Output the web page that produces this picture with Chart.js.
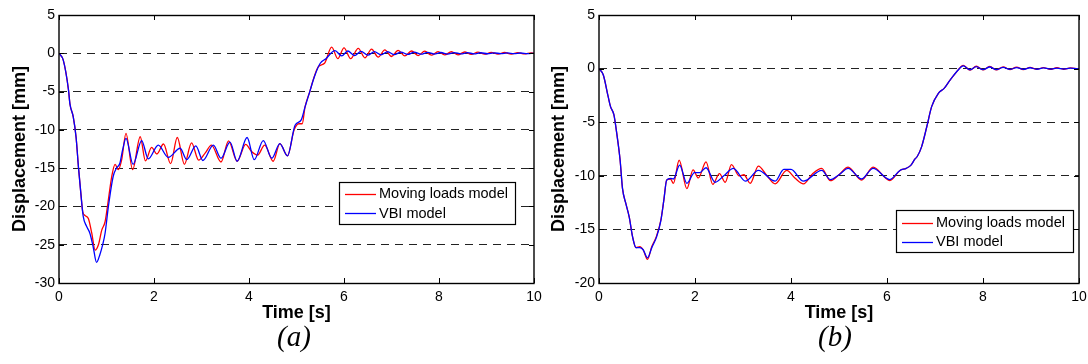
<!DOCTYPE html>
<html><head><meta charset="utf-8">
<script src="https://cdn.jsdelivr.net/npm/chart.js@4.4.0/dist/chart.umd.min.js"></script>
<style>
html,body{margin:0;padding:0;background:#fff;width:1088px;height:364px;overflow:hidden;}
canvas{position:absolute;top:0;}
#c1{left:0}
#c2{left:544px}
.cap{position:absolute;top:322px;width:120px;text-align:center;font:italic 29px 'Liberation Serif','Times New Roman',serif;line-height:29px;color:#000;}
</style></head><body>
<canvas id="c1" width="544" height="364"></canvas>
<canvas id="c2" width="544" height="364"></canvas>
<div class="cap" style="left:234px">(a)</div>
<div class="cap" style="left:775px">(b)</div>
<script>
const seriesNames = ['Moving loads model', 'VBI model'];
const xTickValues = [0, 2, 4, 6, 8, 10];
const yTicksA = [-30, -25, -20, -15, -10, -5, 0, 5];
const yTicksB = [-20, -15, -10, -5, 0, 5];
const xTitle = 'Time [s]';
const yTitle = 'Displacement [mm]';

// (a) [time s, displacement mm]
const aMovingLoads = [[0,0],[0.09,-0.9],[0.20,-4.8],[0.23,-6.6],[0.30,-8.3],[0.36,-11.0],[0.41,-14.9],[0.46,-18.3],[0.50,-20.7],[0.55,-21.2],[0.62,-21.6],[0.69,-23.5],[0.76,-25.7],[0.83,-25.0],[0.90,-23.1],[0.97,-22.0],[1.02,-20.0],[1.11,-16.1],[1.18,-14.5],[1.25,-15.2],[1.32,-13.9],[1.41,-10.45],[1.55,-15.2],[1.71,-10.9],[1.82,-14.05],[1.95,-12.3],[2.06,-13.15],[2.20,-11.85],[2.35,-14.4],[2.49,-11.0],[2.64,-14.5],[2.79,-11.7],[2.94,-13.95],[3.08,-13.0],[3.21,-12.0],[3.41,-14.2],[3.57,-11.45],[3.75,-14.1],[3.93,-11.9],[4.05,-12.8],[4.18,-13.3],[4.33,-12.0],[4.51,-14.1],[4.65,-11.8],[4.81,-13.4],[4.95,-10.0],[5.05,-9.2],[5.12,-9.2],[5.18,-7.0],[5.28,-5.0],[5.35,-3.5],[5.46,-1.75],[5.59,-1.3],[5.74,0.8],[5.87,-0.7],[6.00,0.7],[6.14,-0.7],[6.30,0.65],[6.44,-0.6],[6.58,0.55],[6.72,-0.5],[6.86,0.45],[7.00,-0.42],[7.14,0.38],[7.28,-0.35],[7.42,0.3],[7.56,-0.3],[7.70,0.27],[7.84,-0.25],[7.98,0.22],[8.12,-0.22],[8.26,0.2],[8.40,-0.2],[8.54,0.17],[8.68,-0.15],[8.82,0.15],[8.96,-0.12],[9.10,0.12],[9.24,-0.1],[9.38,0.1],[9.52,-0.1],[9.66,0.08],[9.80,-0.08],[9.94,0.06],[10.0,0.0]];
const aVBI = [[0,0],[0.09,-0.9],[0.20,-4.8],[0.23,-6.6],[0.30,-8.3],[0.36,-11.0],[0.41,-14.9],[0.46,-18.3],[0.51,-21.3],[0.58,-22.6],[0.65,-23.5],[0.72,-25.3],[0.79,-27.3],[0.86,-26.3],[0.92,-25.0],[0.97,-23.5],[1.04,-20.0],[1.14,-16.1],[1.21,-15.0],[1.28,-14.4],[1.34,-12.6],[1.41,-11.1],[1.56,-14.5],[1.74,-11.4],[1.88,-13.8],[2.09,-12.0],[2.30,-13.6],[2.55,-12.4],[2.69,-13.9],[2.88,-12.1],[3.03,-14.0],[3.25,-12.0],[3.41,-13.7],[3.60,-11.6],[3.75,-14.1],[3.96,-11.0],[4.11,-13.9],[4.30,-11.4],[4.48,-13.7],[4.65,-11.8],[4.81,-13.4],[4.97,-9.4],[5.10,-8.7],[5.18,-7.0],[5.28,-5.0],[5.38,-3.0],[5.50,-1.3],[5.62,-0.7],[5.81,0.35],[5.95,-0.35],[6.08,0.3],[6.22,-0.3],[6.36,0.25],[6.50,-0.25],[6.64,0.22],[6.78,-0.2],[6.92,0.2],[7.06,-0.18],[7.20,0.16],[7.34,-0.15],[7.48,0.14],[7.62,-0.12],[7.76,0.12],[7.90,-0.1],[8.04,0.1],[8.18,-0.1],[8.32,0.09],[8.46,-0.08],[8.60,0.08],[8.74,-0.07],[8.88,0.07],[9.02,-0.06],[9.16,0.06],[9.30,-0.05],[9.44,0.05],[9.58,-0.05],[9.72,0.04],[9.86,-0.04],[10.0,0.0]];

// (b)
const bMovingLoads = [[0,0],[0.09,-0.6],[0.19,-2.6],[0.24,-3.55],[0.31,-4.3],[0.37,-6.05],[0.44,-8.55],[0.49,-11.2],[0.56,-12.6],[0.63,-13.85],[0.70,-15.7],[0.77,-16.7],[0.85,-16.6],[0.92,-16.9],[1.01,-17.8],[1.10,-16.6],[1.20,-15.6],[1.29,-14.1],[1.35,-12.3],[1.41,-10.4],[1.49,-10.3],[1.55,-10.7],[1.67,-8.55],[1.83,-11.2],[1.96,-9.45],[2.07,-10.2],[2.23,-8.7],[2.37,-10.8],[2.51,-9.8],[2.63,-10.6],[2.76,-8.95],[2.92,-10.0],[3.02,-9.9],[3.15,-10.7],[3.32,-9.1],[3.50,-10.0],[3.67,-10.75],[3.91,-9.5],[4.08,-10.2],[4.26,-10.75],[4.45,-9.8],[4.64,-9.3],[4.82,-10.45],[5.00,-9.9],[5.19,-9.2],[5.47,-10.4],[5.71,-9.2],[6.06,-10.45],[6.27,-9.5],[6.40,-9.3],[6.50,-9.0],[6.58,-8.45],[6.63,-8.2],[6.72,-7.3],[6.83,-5.4],[6.93,-3.55],[7.07,-2.3],[7.19,-1.85],[7.31,-1.1],[7.45,-0.3],[7.59,0.3],[7.73,-0.15],[7.86,0.22],[8.00,-0.12],[8.14,0.2],[8.28,-0.12],[8.42,0.16],[8.56,-0.1],[8.70,0.14],[8.84,-0.1],[8.98,0.12],[9.12,-0.08],[9.26,0.1],[9.40,-0.08],[9.54,0.08],[9.68,-0.06],[9.82,0.06],[10.0,-0.04]];
const bVBI = [[0,0],[0.09,-0.6],[0.19,-2.6],[0.24,-3.55],[0.31,-4.3],[0.37,-6.05],[0.44,-8.55],[0.49,-11.2],[0.56,-12.6],[0.63,-13.85],[0.70,-15.7],[0.77,-16.7],[0.85,-16.7],[0.92,-16.9],[1.01,-17.65],[1.10,-16.7],[1.20,-15.7],[1.29,-14.15],[1.35,-12.3],[1.41,-10.4],[1.49,-10.25],[1.55,-10.3],[1.68,-9.0],[1.83,-10.7],[1.99,-9.7],[2.10,-9.7],[2.23,-9.25],[2.42,-10.6],[2.60,-10.0],[2.80,-9.3],[3.05,-10.5],[3.32,-9.5],[3.67,-10.5],[3.85,-9.4],[4.00,-9.4],[4.26,-10.5],[4.64,-9.5],[4.82,-10.35],[5.00,-9.9],[5.19,-9.3],[5.47,-10.3],[5.71,-9.3],[6.06,-10.35],[6.27,-9.5],[6.40,-9.3],[6.50,-9.0],[6.58,-8.45],[6.63,-8.2],[6.72,-7.3],[6.83,-5.4],[6.93,-3.55],[7.07,-2.3],[7.19,-1.85],[7.31,-1.1],[7.45,-0.3],[7.59,0.25],[7.73,-0.12],[7.86,0.18],[8.00,-0.1],[8.14,0.15],[8.28,-0.1],[8.42,0.12],[8.56,-0.08],[8.70,0.1],[8.84,-0.07],[8.98,0.08],[9.12,-0.06],[9.26,0.07],[9.40,-0.05],[9.54,0.05],[9.68,-0.04],[9.82,0.04],[10.0,-0.03]];

const FONT = "'Liberation Sans', Arial, Helvetica, sans-serif";
Chart.defaults.font.family = FONT;
Chart.defaults.color = '#000';

const frameTicks = {
  id: 'frameTicks',
  afterDatasetsDraw(chart) {
    const ctx = chart.ctx, a = chart.chartArea;
    const xs = chart.scales.x, ys = chart.scales.y;
    const L = 5;
    ctx.save();
    ctx.strokeStyle = '#000';
    ctx.lineWidth = 1;
    ctx.beginPath();
    xs.ticks.forEach(t => {
      const px = Math.round(xs.getPixelForValue(t.value)) + 0.5;
      ctx.moveTo(px, a.bottom); ctx.lineTo(px, a.bottom - L);
      ctx.moveTo(px, a.top); ctx.lineTo(px, a.top + L);
    });
    ys.ticks.forEach(t => {
      const py = Math.round(ys.getPixelForValue(t.value)) + 0.5;
      ctx.moveTo(a.left, py); ctx.lineTo(a.left + L, py);
      ctx.moveTo(a.right, py); ctx.lineTo(a.right - L, py);
    });
    ctx.stroke();
    ctx.lineWidth = 1.4;
    ctx.strokeRect(Math.round(a.left), Math.round(a.top) + 0.5, Math.round(a.right - a.left), Math.round(a.bottom - a.top));
    ctx.restore();
  }
};

const boxLegend = {
  id: 'boxLegend',
  afterDraw(chart, args, o) {
    const ctx = chart.ctx;
    ctx.save();
    ctx.fillStyle = '#fff';
    ctx.fillRect(o.x, o.y, o.w, o.h);
    ctx.strokeStyle = '#000';
    ctx.lineWidth = 1.2;
    ctx.strokeRect(o.x + 0.5, o.y + 0.5, o.w, o.h);
    ctx.font = '14.5px ' + FONT;
    ctx.textBaseline = 'middle';
    ctx.textAlign = 'left';
    chart.data.datasets.forEach((ds, i) => {
      const ry = o.y + o.rows[i];
      ctx.strokeStyle = ds.borderColor;
      ctx.lineWidth = 1.3;
      ctx.beginPath();
      ctx.moveTo(o.x + 6, Math.round(ry) + 0.5);
      ctx.lineTo(o.x + 37, Math.round(ry) + 0.5);
      ctx.stroke();
      ctx.fillStyle = '#000';
      ctx.fillText(ds.label, o.x + 40, ry + 0.5);
    });
    ctx.restore();
  }
};

function toXY(pairs) { return pairs.map(p => ({x: p[0], y: p[1]})); }

function makeChart(id, red, blue, yTicks, yAxisW, yTitlePad, padRight, legendBox) {
  const yMin = yTicks[0], yMax = yTicks[yTicks.length - 1];
  return new Chart(document.getElementById(id), {
    type: 'line',
    data: {
      datasets: [
        {label: seriesNames[0], data: toXY(red), borderColor: '#ff0000', borderWidth: 1.3, pointRadius: 0, cubicInterpolationMode: 'monotone', order: 1, fill: false},
        {label: seriesNames[1], data: toXY(blue), borderColor: '#0000ff', borderWidth: 1.3, pointRadius: 0, cubicInterpolationMode: 'monotone', order: 0, fill: false}
      ]
    },
    options: {
      responsive: false,
      animation: false,
      devicePixelRatio: 1,
      layout: {padding: {left: 0, right: padRight, top: 15, bottom: 0}},
      plugins: {
        legend: {display: false},
        tooltip: {enabled: false},
        title: {display: false},
        boxLegend: legendBox
      },
      scales: {
        x: {
          type: 'linear', min: 0, max: 10,
          afterBuildTicks: s => { s.ticks = xTickValues.map(v => ({value: v})); },
          afterFit: s => { s.height = 81; s.paddingLeft = 0; s.paddingRight = 0; },
          ticks: {font: {size: 14}, padding: 6, maxRotation: 0, autoSkip: false},
          grid: {display: false, drawTicks: false},
          border: {display: false},
          title: {display: true, text: xTitle, font: {size: 18, weight: 'bold'}, padding: {top: 0, bottom: 40}}
        },
        y: {
          type: 'linear', min: yMin, max: yMax,
          afterBuildTicks: s => { s.ticks = yTicks.map(v => ({value: v})); },
          afterFit: s => { s.width = yAxisW; s.paddingTop = 0; s.paddingBottom = 0; },
          ticks: {font: {size: 14}, padding: 4, autoSkip: false},
          grid: {
            drawTicks: false,
            lineWidth: 1.1,
            color: c => (c.tick && (c.tick.value === yMin || c.tick.value === yMax)) ? 'rgba(0,0,0,0)' : '#222'
          },
          border: {display: false, dash: [8, 6]},
          title: {display: true, text: yTitle, font: {size: 18, weight: 'bold'}, padding: {top: yTitlePad, bottom: 0}}
        }
      }
    },
    plugins: [frameTicks, boxLegend]
  });
}

makeChart('c1', aMovingLoads, aVBI, yTicksA, 59, 9, 10, {x: 339, y: 182, w: 176, h: 42, rows: [11.5, 31]});
makeChart('c2', bMovingLoads, bVBI, yTicksB, 55, 4.7, 9, {x: 352, y: 210, w: 177, h: 42, rows: [12.5, 31.5]});
</script>
</body></html>
